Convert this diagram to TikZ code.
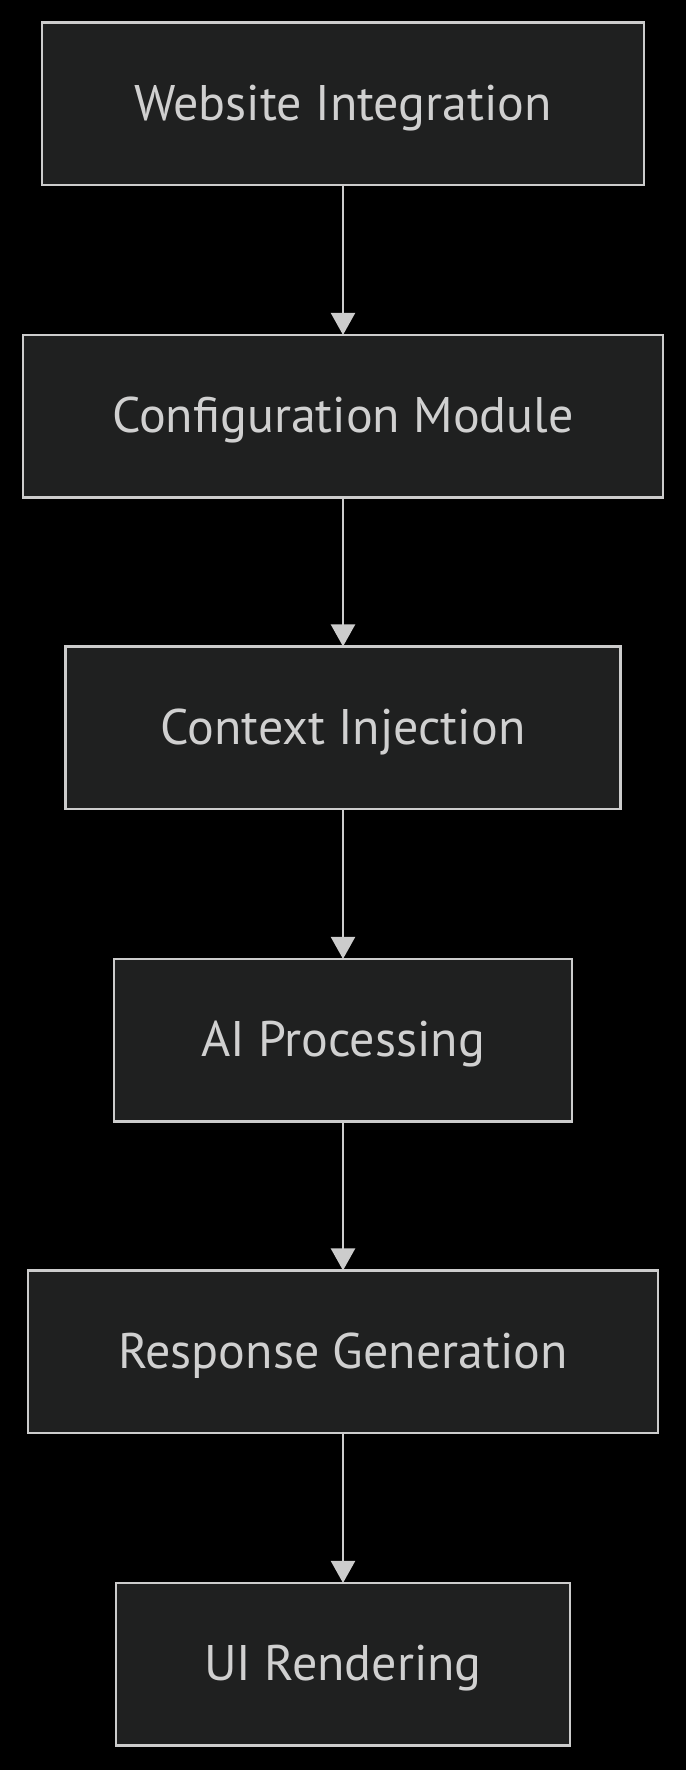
\documentclass[tikz,border=0pt]{standalone}
\usepackage{fontspec}
\setmainfont{PT Sans}
\usepackage{xcolor}
\usetikzlibrary{arrows.meta}

\definecolor{boxfill}{HTML}{1F2020}
\definecolor{boxline}{HTML}{CCCCCC}
\definecolor{boxtext}{HTML}{D0D0D0}

\begin{document}
\begin{tikzpicture}[x=1pt, y=-1pt,
        every node/.style={rectangle, draw=boxline, fill=boxfill, line width=2.2pt,
        text=boxtext, minimum height=162.5pt, inner sep=0pt,
        text height=32.4pt, text depth=0pt,
        font=\fontsize{50}{58}\selectfont},
        flow/.style={draw=boxline, line width=2.2pt,
        -{Triangle[width=24pt, length=22pt]}, shorten >=-1pt}]
        \fill[black] (0,0) rectangle (686,1770);

        \node[minimum width=602.5pt] (web) at (343, 103.8) {Website Integration};
        \node[minimum width=639.7pt] (conf) at (343, 416.3) {Configuration Module};
        \node[minimum width=555.1pt] (ctx) at (343, 727.8) {Context Injection};
        \node[minimum width=458pt] (ai) at (343, 1040.3) {AI Processing};
        \node[minimum width=629.6pt] (resp) at (343, 1351.8) {Response Generation};
        \node[minimum width=453.6pt] (ui) at (343, 1664.3) {UI Rendering};

        \draw[flow] (web) -- (conf);
        \draw[flow] (conf) -- (ctx);
        \draw[flow] (ctx) -- (ai);
        \draw[flow] (ai) -- (resp);
        \draw[flow] (resp) -- (ui);
    \end{tikzpicture}
\end{document}
